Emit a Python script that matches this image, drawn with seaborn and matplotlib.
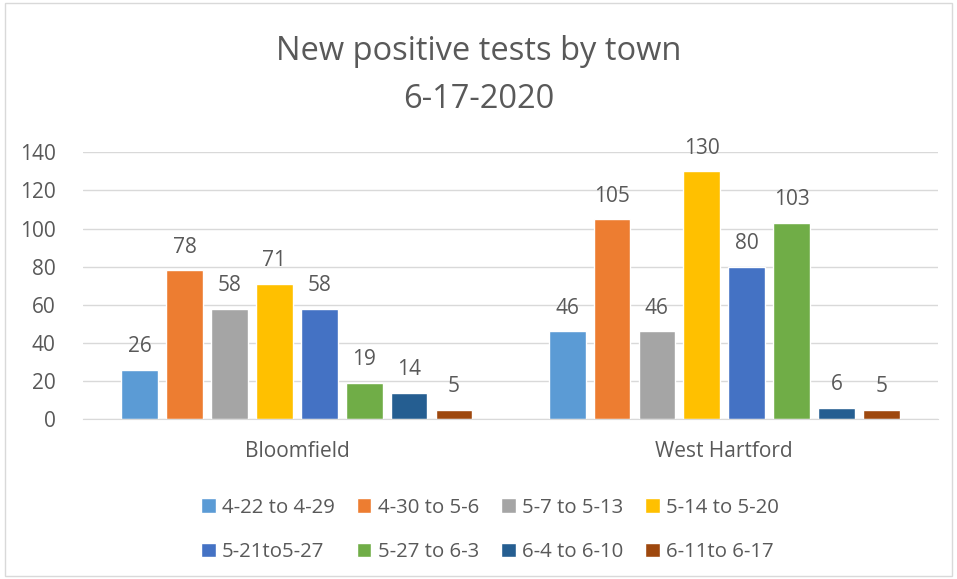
import matplotlib
matplotlib.use("Agg")
import matplotlib.pyplot as plt
import pandas as pd
import seaborn as sns
from matplotlib.patches import Rectangle

# ----------------------------
# data
# ----------------------------
towns = ["Bloomfield", "West Hartford"]
weeks = ["4-22 to 4-29", "4-30 to 5-6", "5-7 to 5-13", "5-14 to 5-20",
         "5-21to5-27", "5-27 to 6-3", "6-4 to 6-10", "6-11to 6-17"]
bloomfield = [26, 78, 58, 71, 58, 19, 14, 5]
west_hartford = [46, 105, 46, 130, 80, 103, 6, 5]
colors = ["#5B9BD5", "#ED7D31", "#A5A5A5", "#FFC000",
          "#4472C4", "#70AD47", "#255E91", "#9E480E"]

df = pd.DataFrame({
    "town": [towns[0]] * len(weeks) + [towns[1]] * len(weeks),
    "week": weeks * 2,
    "cases": bloomfield + west_hartford,
})

sns.set_style("white")
plt.rcParams["font.family"] = ["Open Sans", "DejaVu Sans"]
text_col = "#595959"

fig = plt.figure(figsize=(9.57, 5.79), dpi=100)
ax = fig.add_axes([0.087, 0.276, 0.893, 0.461])

sns.barplot(data=df, x="town", y="cases", hue="week", hue_order=weeks,
            palette=colors, width=0.84, gap=0.18, saturation=1,
            legend=True, ax=ax)

for cont in ax.containers:
    ax.bar_label(cont, fmt="%d", padding=9, fontsize=15, color=text_col)

ax.set_ylim(0, 140)
ax.set_yticks(range(0, 141, 20))
ax.yaxis.grid(True, color="#D9D9D9", linewidth=1)
ax.set_axisbelow(True)
for s in ["top", "right", "left"]:
    ax.spines[s].set_visible(False)
ax.spines["bottom"].set_color("#D9D9D9")
ax.tick_params(axis="both", length=0, labelsize=15, colors=text_col)
ax.tick_params(axis="y", pad=20)
ax.tick_params(axis="x", pad=16)
ax.set_xlabel("")
ax.set_ylabel("")

fig.suptitle("New positive tests by town\n6-17-2020", y=0.94,
             fontsize=23.5, color=text_col, linespacing=1.6)

# legend filled row by row, four per row
handles, labels = ax.get_legend_handles_labels()
order = [0, 4, 1, 5, 2, 6, 3, 7]
leg = ax.legend([handles[i] for i in order], [labels[i] for i in order],
                loc="upper center", bbox_to_anchor=(0.476, -0.225), ncol=4,
                frameon=False, fontsize=14.7, handlelength=0.7,
                handleheight=0.7, handletextpad=0.3, columnspacing=1.1,
                labelspacing=1.2)
for t in leg.get_texts():
    t.set_color(text_col)

fig.patches.append(Rectangle((0.005, 0.005), 0.99, 0.99, transform=fig.transFigure,
                             fill=False, edgecolor="#D9D9D9", linewidth=1))

fig.savefig("out.png", dpi=100)
plt.close(fig)
